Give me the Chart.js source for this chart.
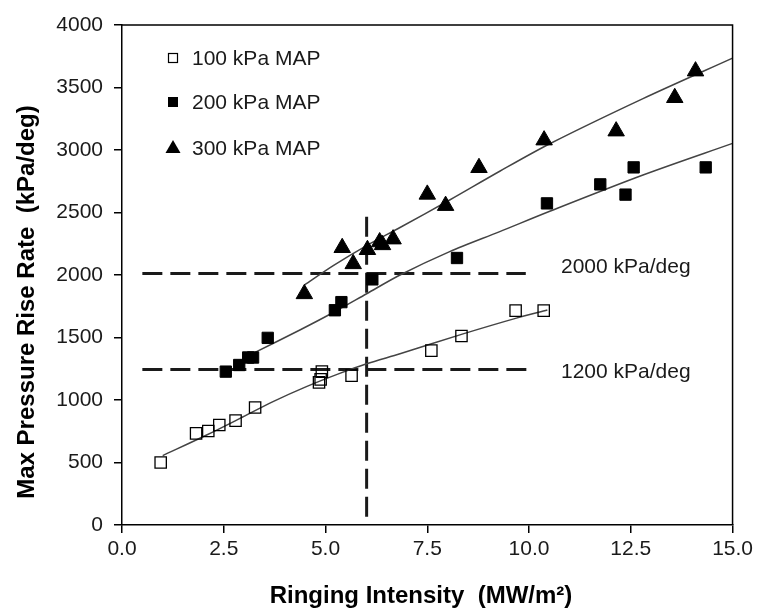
<!DOCTYPE html>
<html>
<head>
<meta charset="utf-8">
<script src="https://cdn.jsdelivr.net/npm/chart.js@4.4.1/dist/chart.umd.min.js"></script>
<style>
    html, body { margin: 0; padding: 0; background: #fff; }
</style>
</head>
<body>
<canvas id="myChart" width="757" height="610"></canvas>
<script>
// Measured points (x = ringing intensity MW/m2, y = max pressure rise rate kPa/deg)
const map100X = [0.95, 1.82, 2.12, 2.39, 2.79, 3.27, 4.84, 4.88, 4.91, 5.64, 7.60, 8.34, 9.67, 10.36];
const map100Y = [500, 733, 752, 800, 835, 940, 1141, 1165, 1227, 1195, 1395, 1512, 1715, 1715];
const map200X = [2.55, 2.88, 3.10, 3.22, 3.58, 5.23, 5.39, 6.15, 8.23, 10.44, 11.75, 12.37, 12.57, 14.34];
const map200Y = [1227, 1280, 1340, 1340, 1497, 1718, 1783, 1965, 2136, 2573, 2725, 2643, 2861, 2861];
const map300X = [4.48, 5.41, 5.68, 6.03, 6.33, 6.40, 6.66, 7.50, 7.95, 8.77, 10.37, 12.14, 13.58, 14.09];
const map300Y = [1849, 2218, 2089, 2202, 2264, 2241, 2287, 2645, 2555, 2858, 3079, 3151, 3418, 3631];

// Trend curves
const fit100X = [1.0, 2.08, 2.90, 3.71, 4.53, 5.35, 6.01, 6.83, 8.34, 9.69, 10.45];
const fit100Y = [555, 720, 853, 987, 1107, 1213, 1290, 1370, 1525, 1655, 1720];
const fit200X = [3.22, 4.37, 5.19, 6.01, 6.83, 8.05, 9.28, 10.51, 12.8, 15.0];
const fit200Y = [1373, 1560, 1700, 1850, 2000, 2187, 2347, 2510, 2800, 3053];
const fit300X = [4.48, 5.19, 6.01, 6.83, 8.05, 9.28, 10.51, 12.8, 15.0];
const fit300Y = [1920, 2075, 2235, 2380, 2600, 2830, 3050, 3411, 3735];

// Dashed limit lines
const lim2000X = [0.5, 9.92];
const lim2000Y = [2013, 2013];
const lim1200X = [0.5, 10.08];
const lim1200Y = [1245, 1245];
const limVertX = [6.01, 6.01];
const limVertY = [67, 2520];

const seriesLabels = ['100 kPa MAP', '200 kPa MAP', '300 kPa MAP'];
const limitLabels = ['2000 kPa/deg', '1200 kPa/deg'];
const xTicks = [0, 2.5, 5, 7.5, 10, 12.5, 15];
const yTicks = [0, 500, 1000, 1500, 2000, 2500, 3000, 3500, 4000];
const xTitle = 'Ringing Intensity  (MW/m\u00B2)';
const yTitle = 'Max Pressure Rise Rate  (kPa/deg)';

const FONT = '"Liberation Sans", Arial, sans-serif';

function pts(xs, ys) {
    return xs.map((x, i) => ({ x: x, y: ys[i] }));
}

function curve(xs, ys) {
    return {
        type: 'line', data: pts(xs, ys), showLine: true, pointRadius: 0,
        borderColor: '#444', borderWidth: 1.5, tension: 0.3, fill: false
    };
}

function dashed(xs, ys) {
    return {
        type: 'line', data: pts(xs, ys), showLine: true, pointRadius: 0,
        borderColor: '#1a1a1a', borderWidth: 3, borderDash: [20, 8], fill: false
    };
}

// legend, frame, limit labels and axis titles
const decorations = {
    id: 'decorations',
    afterDraw(chart) {
        const ctx = chart.ctx;
        const a = chart.chartArea;
        ctx.save();
        ctx.strokeStyle = '#000';
        ctx.lineWidth = 1.5;
        ctx.beginPath();
        ctx.moveTo(a.left, a.top);
        ctx.lineTo(a.right, a.top);
        ctx.lineTo(a.right, a.bottom);
        ctx.stroke();

        // legend
        const rows = [58, 102, 148];
        const mx = 173;
        ctx.lineWidth = 1.2;
        ctx.fillStyle = '#fff';
        ctx.fillRect(mx - 4.5, rows[0] - 4.5, 9, 9);
        ctx.strokeRect(mx - 4.5, rows[0] - 4.5, 9, 9);
        ctx.fillStyle = '#000';
        ctx.fillRect(mx - 5, rows[1] - 5, 10, 10);
        ctx.beginPath();
        ctx.moveTo(mx, rows[2] - 8);
        ctx.lineTo(mx + 7.5, rows[2] + 5);
        ctx.lineTo(mx - 7.5, rows[2] + 5);
        ctx.closePath();
        ctx.fill();

        ctx.fillStyle = '#1a1a1a';
        ctx.font = '21px ' + FONT;
        ctx.textAlign = 'left';
        ctx.textBaseline = 'middle';
        seriesLabels.forEach((t, i) => ctx.fillText(t, 192, rows[i] + 1));

        // limit labels
        ctx.fillText(limitLabels[0], 561, chart.scales.y.getPixelForValue(lim2000Y[0]) - 6);
        ctx.fillText(limitLabels[1], 561, chart.scales.y.getPixelForValue(lim1200Y[0]) + 3);

        // axis titles
        ctx.font = 'bold 24px ' + FONT;
        ctx.textAlign = 'center';
        ctx.fillStyle = '#000';
        ctx.fillText(xTitle, 421, 596);
        ctx.translate(27, 302);
        ctx.rotate(-Math.PI / 2);
        ctx.fillText(yTitle, 0, 0);
        ctx.restore();
    }
};

const ctx = document.getElementById('myChart').getContext('2d');
new Chart(ctx, {
    type: 'scatter',
    data: {
        datasets: [
            {
                label: seriesLabels[0], data: pts(map100X, map100Y),
                pointStyle: 'rect', pointRadius: 8, pointHoverRadius: 8,
                backgroundColor: 'rgba(255,255,255,0)', borderColor: '#000', borderWidth: 1.3
            },
            {
                label: seriesLabels[1], data: pts(map200X, map200Y),
                pointStyle: 'rect', pointRadius: 8, pointHoverRadius: 8,
                backgroundColor: '#000', borderColor: '#000', borderWidth: 1
            },
            {
                label: seriesLabels[2], data: pts(map300X, map300Y),
                pointStyle: 'triangle', pointRadius: 9.5, pointHoverRadius: 9.5,
                backgroundColor: '#000', borderColor: '#000', borderWidth: 1
            },
            curve(fit100X, fit100Y),
            curve(fit200X, fit200Y),
            curve(fit300X, fit300Y),
            dashed(lim2000X, lim2000Y),
            dashed(lim1200X, lim1200Y),
            dashed(limVertX, limVertY)
        ]
    },
    options: {
        responsive: false,
        animation: false,
        layout: { padding: { left: 0, right: 24, top: 25, bottom: 0 } },
        plugins: {
            legend: { display: false },
            tooltip: { enabled: false }
        },
        scales: {
            x: {
                type: 'linear', min: 0, max: 15,
                afterFit: s => { s.height = 85; },
                afterBuildTicks: s => { s.ticks = xTicks.map(v => ({ value: v })); },
                ticks: {
                    color: '#1a1a1a', font: { family: FONT, size: 21 }, padding: 4,
                    maxRotation: 0, autoSkip: false,
                    callback: v => Number(v).toFixed(1)
                },
                grid: { drawOnChartArea: false, tickLength: 8, color: '#000', lineWidth: 1.5 },
                border: { color: '#000', width: 1.5 }
            },
            y: {
                type: 'linear', min: 0, max: 4000,
                afterFit: s => { s.width = 122; },
                afterBuildTicks: s => { s.ticks = yTicks.map(v => ({ value: v })); },
                ticks: {
                    color: '#1a1a1a', font: { family: FONT, size: 21 }, padding: 11,
                    autoSkip: false,
                    callback: v => String(v)
                },
                grid: { drawOnChartArea: false, tickLength: 8, color: '#000', lineWidth: 1.5 },
                border: { color: '#000', width: 1.5 }
            }
        }
    },
    plugins: [decorations]
});
</script>
</body>
</html>
